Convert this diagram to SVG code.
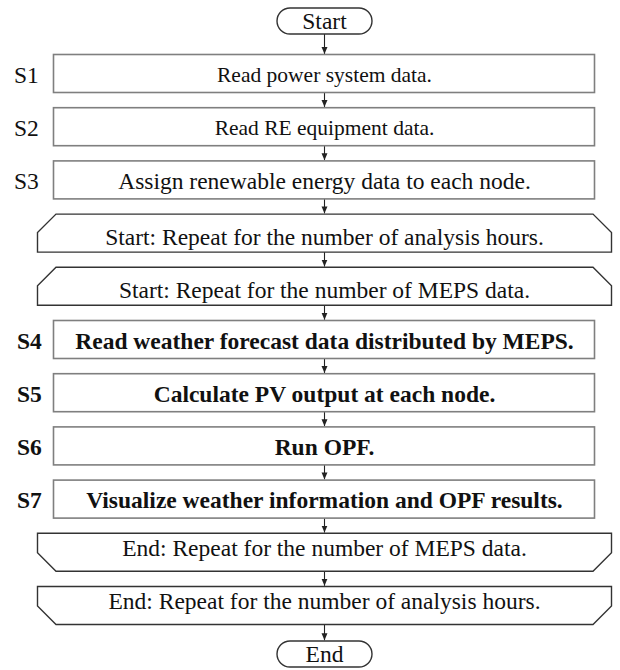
<svg xmlns="http://www.w3.org/2000/svg" width="620" height="670" viewBox="0 0 620 670">
<style>
  .box { fill: #ffffff; stroke: #7f7f7f; stroke-width: 1.6; }
  .loop { fill: #ffffff; stroke: #333333; stroke-width: 1.4; }
  .term { fill: #ffffff; stroke: #333333; stroke-width: 1.4; }
  .t { font-family: "Liberation Serif", "Times New Roman", serif; font-size: 23.5px; fill: #111111; text-anchor: middle; }
  .sm { font-size: 21.5px; }
  .b { font-weight: bold; }
  .lbl { font-family: "Liberation Serif", "Times New Roman", serif; font-size: 23.5px; fill: #111111; }
  .conn { stroke: #222222; stroke-width: 1.1; fill: none; marker-end: url(#ah); }
</style>
<defs>
  <marker id="ah" viewBox="0 0 8 8" refX="8" refY="4" markerWidth="7" markerHeight="7" markerUnits="userSpaceOnUse" orient="auto" preserveAspectRatio="none">
    <path d="M0,0.6 L8,4 L0,7.4 Z" fill="#222222"/>
  </marker>
</defs>

<g id="connectors">
  <line class="conn" x1="324.5" y1="34" x2="324.5" y2="54"/>
  <line class="conn" x1="324.5" y1="92.5" x2="324.5" y2="107"/>
  <line class="conn" x1="324.5" y1="145.7" x2="324.5" y2="160.2"/>
  <line class="conn" x1="324.5" y1="198.9" x2="324.5" y2="213.4"/>
  <line class="conn" x1="324.5" y1="252.1" x2="324.5" y2="266.6"/>
  <line class="conn" x1="324.5" y1="305.3" x2="324.5" y2="319.8"/>
  <line class="conn" x1="324.5" y1="358.5" x2="324.5" y2="373"/>
  <line class="conn" x1="324.5" y1="411.7" x2="324.5" y2="426.2"/>
  <line class="conn" x1="324.5" y1="464.9" x2="324.5" y2="479.4"/>
  <line class="conn" x1="324.5" y1="518.1" x2="324.5" y2="532.6"/>
  <line class="conn" x1="324.5" y1="571.3" x2="324.5" y2="585.8"/>
  <line class="conn" x1="324.5" y1="624.5" x2="324.5" y2="640.3"/>
</g>

<g id="start">
  <rect class="term" x="277" y="8" width="95" height="26" rx="13" ry="13"/>
  <text class="t" x="324.5" y="29">Start</text>
</g>

<g id="s1">
  <rect class="box" x="53.5" y="54.5" width="541" height="38"/>
  <text class="lbl" x="14" y="82.5">S1</text>
  <text class="t sm" x="324.5" y="81.5">Read power system data.</text>
</g>

<g id="s2">
  <rect class="box" x="53.5" y="107.7" width="541" height="38"/>
  <text class="lbl" x="14" y="135.7">S2</text>
  <text class="t sm" x="324.5" y="134.7">Read RE equipment data.</text>
</g>

<g id="s3">
  <rect class="box" x="53.5" y="160.9" width="541" height="38"/>
  <text class="lbl" x="14" y="188.9">S3</text>
  <text class="t" x="324.5" y="188.9">Assign renewable energy data to each node.</text>
</g>

<g id="loop-start-hours">
  <path class="loop" d="M56,214.1 L593,214.1 L611.5,232.6 L611.5,252.1 L37.5,252.1 L37.5,232.6 Z"/>
  <text class="t" x="324.5" y="244.5">Start: Repeat for the number of analysis hours.</text>
</g>

<g id="loop-start-meps">
  <path class="loop" d="M56,267.3 L593,267.3 L611.5,285.8 L611.5,305.3 L37.5,305.3 L37.5,285.8 Z"/>
  <text class="t" x="324.5" y="297.7">Start: Repeat for the number of MEPS data.</text>
</g>

<g id="s4">
  <rect class="box" x="53.5" y="320.5" width="541" height="38"/>
  <text class="lbl b" x="17" y="348.5">S4</text>
  <text class="t b" x="324.5" y="348.5">Read weather forecast data distributed by MEPS.</text>
</g>

<g id="s5">
  <rect class="box" x="53.5" y="373.7" width="541" height="38"/>
  <text class="lbl b" x="17" y="401.7">S5</text>
  <text class="t b" x="324.5" y="401.7">Calculate PV output at each node.</text>
</g>

<g id="s6">
  <rect class="box" x="53.5" y="426.9" width="541" height="38"/>
  <text class="lbl b" x="17" y="454.9">S6</text>
  <text class="t b" x="324.5" y="454.9">Run OPF.</text>
</g>

<g id="s7">
  <rect class="box" x="53.5" y="480.1" width="541" height="38"/>
  <text class="lbl b" x="17" y="508.1">S7</text>
  <text class="t b" x="324.5" y="508.1">Visualize weather information and OPF results.</text>
</g>

<g id="loop-end-meps">
  <path class="loop" d="M37.5,533.3 L611.5,533.3 L611.5,552.8 L593,571.3 L56,571.3 L37.5,552.8 Z"/>
  <text class="t" x="324.5" y="555.5">End: Repeat for the number of MEPS data.</text>
</g>

<g id="loop-end-hours">
  <path class="loop" d="M37.5,586.5 L611.5,586.5 L611.5,606 L593,624.5 L56,624.5 L37.5,606 Z"/>
  <text class="t" x="324.5" y="608.7">End: Repeat for the number of analysis hours.</text>
</g>

<g id="end">
  <rect class="term" x="277" y="641" width="95" height="26" rx="13" ry="13"/>
  <text class="t" x="324.5" y="662">End</text>
</g>
</svg>
